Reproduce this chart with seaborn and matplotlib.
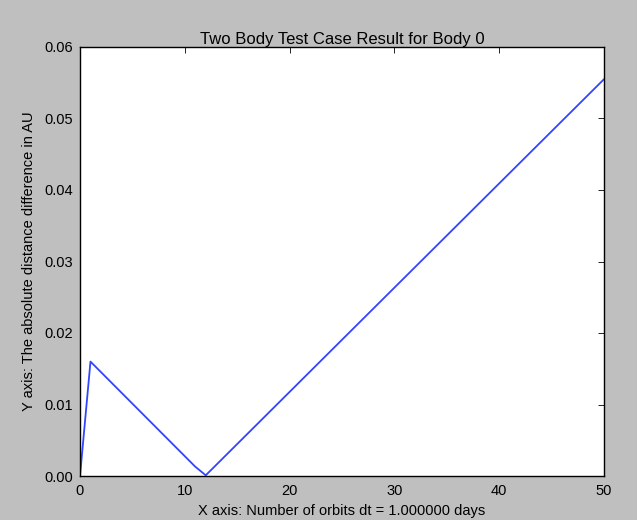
import matplotlib
matplotlib.use("Agg")
import matplotlib.pyplot as plt
import seaborn as sns
import pandas as pd

orbits = [0, 1, 11, 12, 50]
distance_diff = [0.0, 0.016, 0.0013, 0.0001, 0.0555]
x_ticks = [0, 10, 20, 30, 40, 50]
y_ticks = [0.00, 0.01, 0.02, 0.03, 0.04, 0.05, 0.06]

sns.set_style("white")
plt.rcParams['font.family'] = ['Liberation Sans', 'DejaVu Sans']
plt.rcParams['text.color'] = 'black'
plt.rcParams['axes.labelcolor'] = 'black'

df = pd.DataFrame({"orbits": orbits, "diff": distance_diff})

fig = plt.figure(figsize=(6.37, 5.2), dpi=100, facecolor="#bfbfbf")
ax = fig.add_axes([80/637, 44/520, (604-80)/637, (476-47)/520])
ax.set_facecolor("white")
sns.lineplot(data=df, x="orbits", y="diff", ax=ax, color="#3344ff", linewidth=1.3)

ax.set_xlim(0, 50)
ax.set_ylim(0, 0.06)
ax.set_xticks(x_ticks)
ax.set_yticks(y_ticks)
ax.set_yticklabels([f"{v:.2f}" for v in y_ticks])
ax.tick_params(axis="both", direction="in", top=True, right=True, length=4, width=0.6,
               labelsize=10.5, colors="black")
ax.tick_params(axis="x", pad=6)
ax.tick_params(axis="y", pad=5)
for s in ax.spines.values():
    s.set_color("black")
    s.set_linewidth(1.0)
ax.set_title("Two Body Test Case Result for Body 0", fontsize=12, pad=2, color="black")
ax.set_xlabel("X axis: Number of orbits dt = 1.000000 days", fontsize=10.5, labelpad=4, color="black")
ax.set_ylabel("Y axis: The absolute distance difference in AU", fontsize=10.5, labelpad=6, color="black")

fig.savefig("out.png", dpi=100, facecolor=fig.get_facecolor())
